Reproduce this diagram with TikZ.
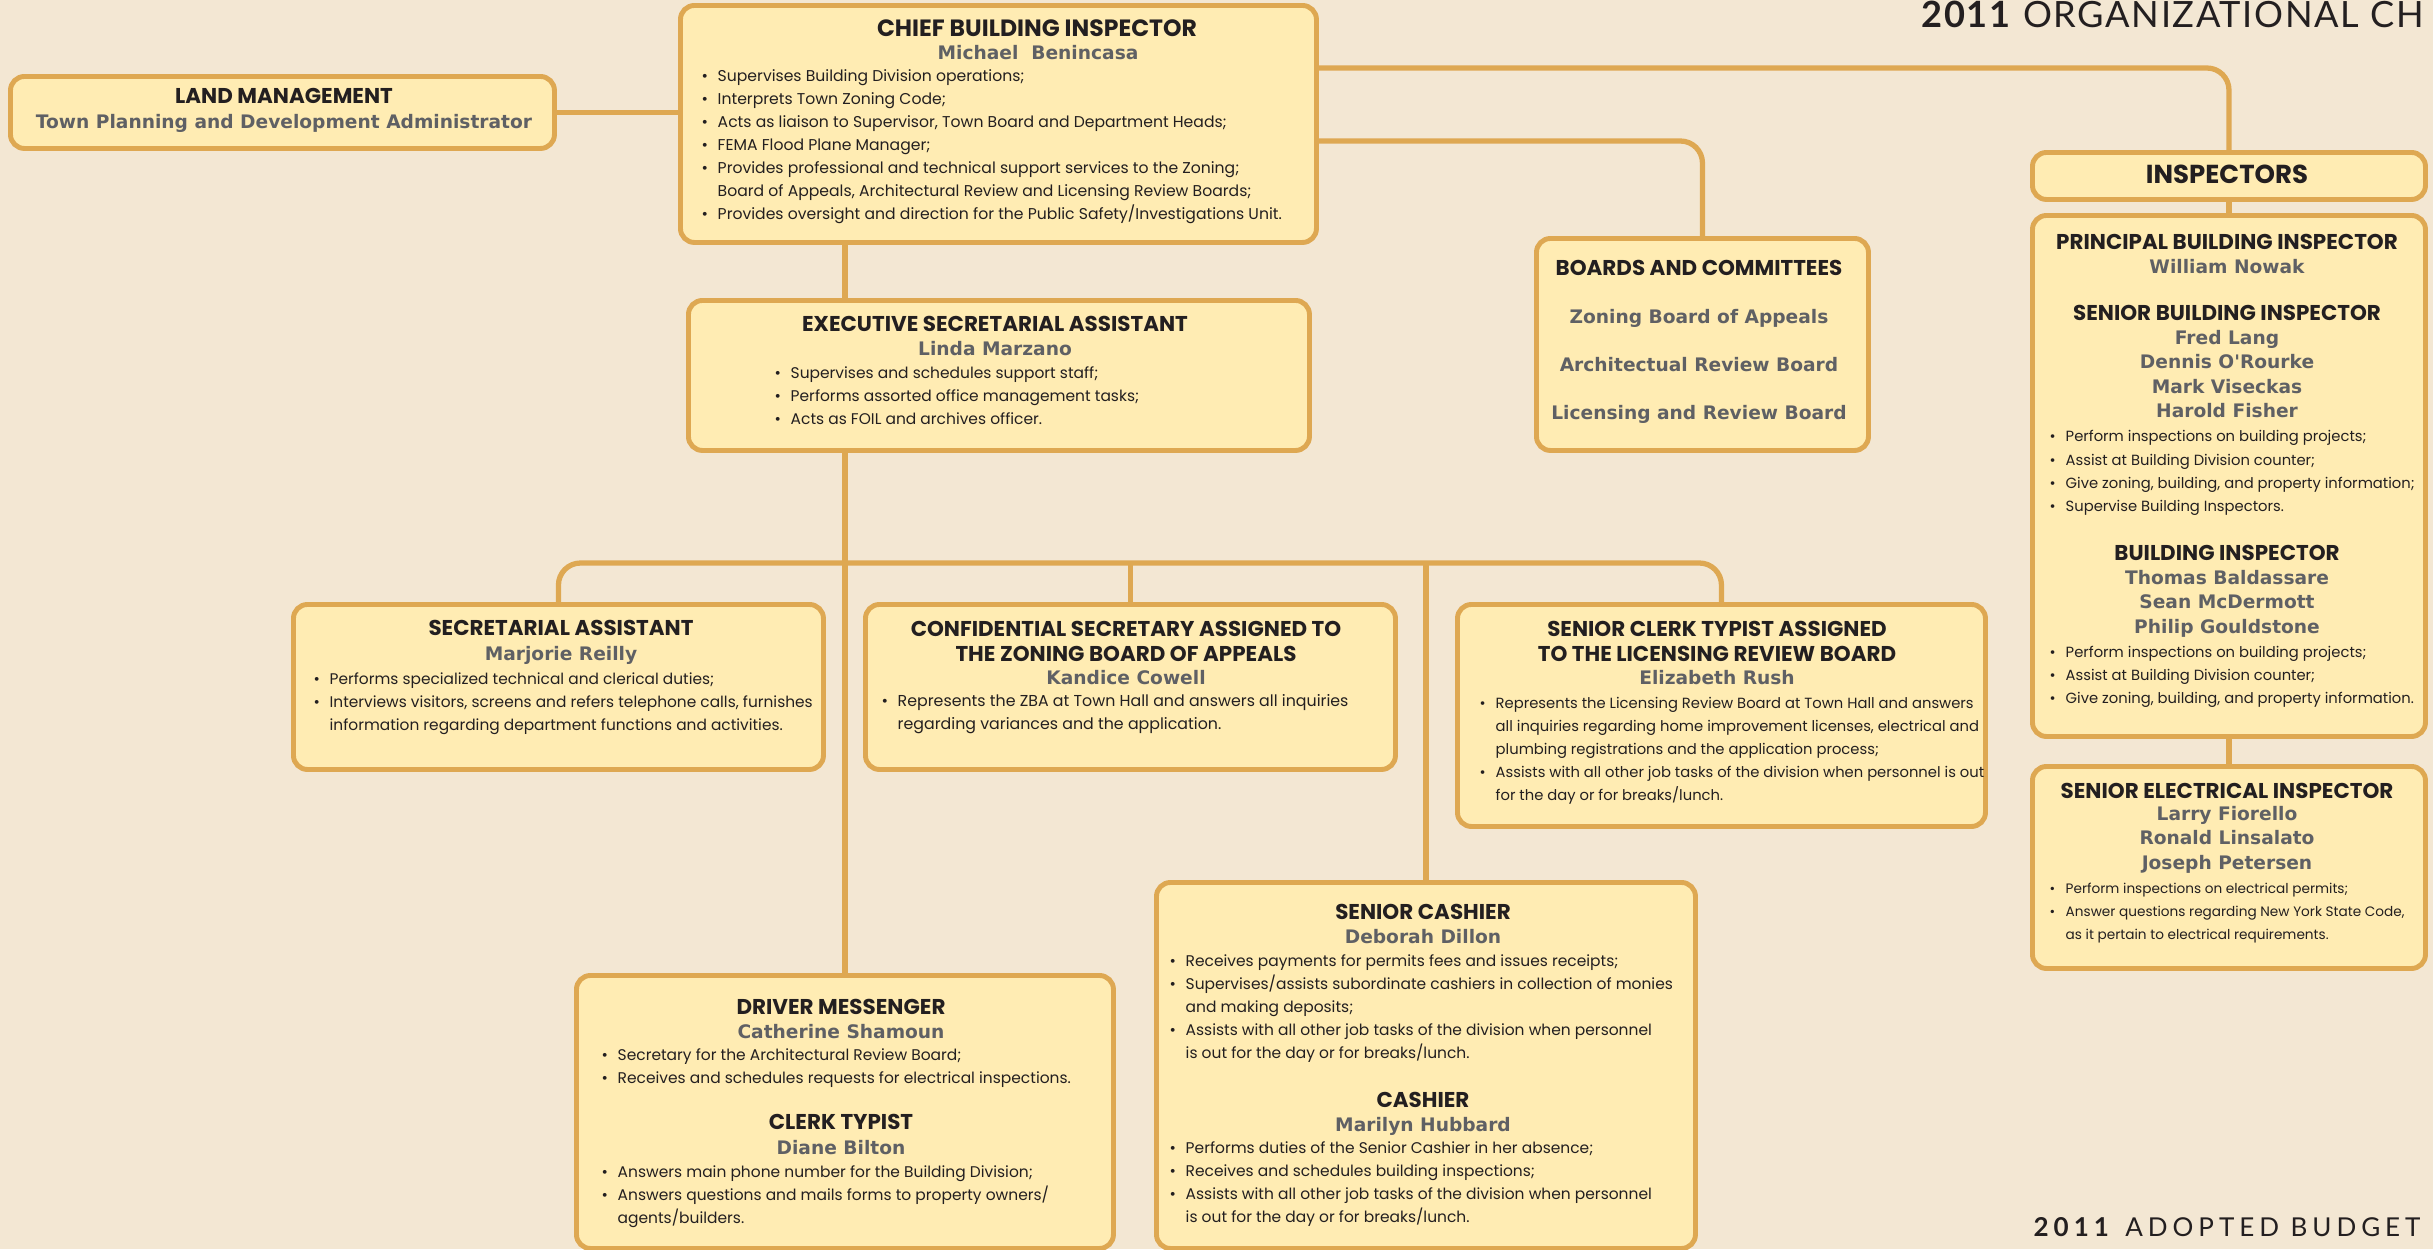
\documentclass[tikz,border=0pt]{standalone}
\usepackage{fontspec}
\setmainfont{Poppins}
\newfontfamily\namefont{DejaVu Sans}
\newfontfamily\capfont{Lato}[LetterSpace=4.5]
\newfontfamily\spacedfont{Lato}[LetterSpace=19]
\usetikzlibrary{positioning, calc, backgrounds}

\definecolor{paper}{RGB}{243,231,211}
\definecolor{pale}{RGB}{255,236,179}
\definecolor{gold}{RGB}{222,168,82}
\definecolor{ink}{RGB}{35,31,32}
\definecolor{slate}{RGB}{95,96,100}

\newcommand{\itm}{\makebox[1.6mm][l]{\textbullet}}
\newcommand{\more}{\hspace*{1.6mm}}

\begin{document}
\begin{tikzpicture}[
    font=\fontsize{4.2}{6.55}\selectfont,
    unit/.style = {draw=gold, fill=pale, line width=1.4pt, rounded corners=1.4mm, anchor=north west, inner sep=0pt},
    link/.style = {draw=gold, line width=1.5pt, rounded corners=2.2mm},
    head/.style = {font=\bfseries\fontsize{6.1}{7.1}\selectfont, text=ink, inner sep=0pt, align=center, execute at begin node=\strut},
    who/.style  = {font=\namefont\bfseries\fontsize{5.3}{6.85}\selectfont, text=slate, inner sep=0pt, align=center, execute at begin node=\strut},
    duty/.style = {font=\fontsize{#1}{6.55}\selectfont, text=ink, inner sep=0pt, align=left, anchor=north west, execute at begin node=\strut},
    duty/.default = 4.2
  ]
  \useasboundingbox (0,0) rectangle (24.33,-12.49);
  \begin{scope}[on background layer]
    \fill[paper] (0,0) rectangle (24.33,-12.49);
  \end{scope}

  % --- boxes ---
  \node[unit, minimum width=5.44cm, minimum height=0.72cm] (land)   at (0.08,-0.74)  {};
  \node[unit, minimum width=6.36cm, minimum height=2.37cm] (chief)  at (6.78,-0.03)  {};
  \node[unit, minimum width=6.21cm, minimum height=1.50cm] (exec)   at (6.86,-2.98)  {};
  \node[unit, minimum width=3.32cm, minimum height=2.12cm] (boards) at (15.34,-2.36) {};
  \node[unit, minimum width=3.93cm, minimum height=0.47cm] (insp)   at (20.30,-1.50) {};
  \node[unit, minimum width=3.93cm, minimum height=5.21cm] (inspB)  at (20.30,-2.13) {};
  \node[unit, minimum width=3.93cm, minimum height=2.02cm] (elec)   at (20.30,-7.64) {};
  \node[unit, minimum width=5.30cm, minimum height=1.65cm] (secr)   at (2.91,-6.02)  {};
  \node[unit, minimum width=5.30cm, minimum height=1.65cm] (conf)   at (8.63,-6.02)  {};
  \node[unit, minimum width=5.28cm, minimum height=2.22cm] (clerk)  at (14.55,-6.02) {};
  \node[unit, minimum width=5.39cm, minimum height=3.66cm] (cash)   at (11.54,-8.80) {};
  \node[unit, minimum width=5.37cm, minimum height=2.73cm] (drv)    at (5.74,-9.73)  {};
  \coordinate (bus) at (8.42,-5.63);

  % --- land management ---
  \node[head, anchor=base] (landH) at (2.84,-1.035) {LAND MANAGEMENT};
  \node[who, anchor=base]  (landN) at (2.84,-1.28)  {Town Planning and Development Administrator};

  % --- chief ---
  \node[head, anchor=base, font=\bfseries\fontsize{6.7}{7.5}\selectfont] (chiefH) at (10.37,-0.36) {CHIEF BUILDING INSPECTOR};
  \node[who, anchor=base] (chiefN) at (10.38,-0.59) {Michael~~Benincasa};
  \node[duty=4.45] (chiefL) at (7.01,-0.686)
    {\itm Supervises Building Division operations;\\
     \itm Interprets Town Zoning Code;\\
     \itm Acts as liaison to Supervisor, Town Board and Department Heads;\\
     \itm FEMA Flood Plane Manager;\\
     \itm Provides professional and technical support services to the Zoning;\\
     \more Board of Appeals, Architectural Review and Licensing Review Boards;\\
     \itm Provides oversight and direction for the Public Safety/Investigations Unit.};

  % --- executive secretarial assistant ---
  \node[head, anchor=base] (execH) at (9.95,-3.315) {EXECUTIVE SECRETARIAL ASSISTANT};
  \node[who, anchor=base]  (execN) at (9.95,-3.55)  {Linda Marzano};
  \node[duty=4.4] (execL) at (7.74,-3.656)
    {\itm Supervises and schedules support staff;\\
     \itm Performs assorted office management tasks;\\
     \itm Acts as FOIL and archives officer.};

  % --- boards ---
  \node[head, anchor=base] (boardsH) at (16.99,-2.755) {BOARDS AND COMMITTEES};
  \node[who, anchor=north, font=\namefont\bfseries\fontsize{5.3}{13.65}\selectfont] (boardsN) at (16.99,-3.09)
    {Zoning Board of Appeals\\Architectual Review Board\\Licensing and Review Board};

  % --- inspectors ---
  \node[head, anchor=base, font=\bfseries\fontsize{7.4}{9}\selectfont] (inspH) at (22.27,-1.835) {INSPECTORS};
  \node[head, anchor=base] (prinH) at (22.27,-2.495) {PRINCIPAL BUILDING INSPECTOR};
  \node[who, anchor=base]  (prinN) at (22.27,-2.73)  {William Nowak};
  \node[head, anchor=base] (senH)  at (22.27,-3.205) {SENIOR BUILDING INSPECTOR};
  \node[who, anchor=north] (senN)  at (22.27,-3.30) {Fred Lang\\Dennis O'Rourke\\Mark Viseckas\\Harold Fisher};
  \node[duty] (senL) at (20.49,-4.30)
    {\itm Perform inspections on building projects;\\
     \itm Assist at Building Division counter;\\
     \itm Give zoning, building, and property information;\\
     \itm Supervise Building Inspectors.};
  \node[head, anchor=base] (bldH) at (22.27,-5.605) {BUILDING INSPECTOR};
  \node[who, anchor=north] (bldN) at (22.27,-5.70) {Thomas Baldassare\\Sean McDermott\\Philip Gouldstone};
  \node[duty] (bldL) at (20.49,-6.456)
    {\itm Perform inspections on building projects;\\
     \itm Assist at Building Division counter;\\
     \itm Give zoning, building, and property information.};

  % --- electrical ---
  \node[head, anchor=base] (elecH) at (22.27,-7.98) {SENIOR ELECTRICAL INSPECTOR};
  \node[who, anchor=north] (elecN) at (22.27,-8.06) {Larry Fiorello\\Ronald Linsalato\\Joseph Petersen};
  \node[duty=3.88] (elecL) at (20.49,-8.826)
    {\itm Perform inspections on electrical permits;\\
     \itm Answer questions regarding New York State Code,\\
     \more as it pertain to electrical requirements.};

  % --- second row ---
  \node[head, anchor=base] (secrH) at (5.61,-6.355) {SECRETARIAL ASSISTANT};
  \node[who, anchor=base]  (secrN) at (5.61,-6.60)  {Marjorie Reilly};
  \node[duty=4.38] (secrL) at (3.13,-6.716)
    {\itm Performs specialized technical and clerical duties;\\
     \itm Interviews visitors, screens and refers telephone calls, furnishes\\
     \more information regarding department functions and activities.};

  \node[head, anchor=north] (confH) at (11.26,-6.21) {CONFIDENTIAL SECRETARY ASSIGNED TO\\THE ZONING BOARD OF APPEALS};
  \node[who, anchor=base]   (confN) at (11.26,-6.84) {Kandice Cowell};
  \node[duty=4.5] (confL) at (8.81,-6.936)
    {\itm Represents the ZBA at Town Hall and answers all inquiries\\
     \more regarding variances and the application.};

  \node[head, anchor=north] (clerkH) at (17.17,-6.21) {SENIOR CLERK TYPIST ASSIGNED\\TO THE LICENSING REVIEW BOARD};
  \node[who, anchor=base]   (clerkN) at (17.17,-6.84) {Elizabeth Rush};
  \node[duty] (clerkL) at (14.79,-6.966)
    {\itm Represents the Licensing Review Board at Town Hall and answers\\
     \more all inquiries regarding home improvement licenses, electrical and\\
     \more plumbing registrations and the application process;\\
     \itm Assists with all other job tasks of the division when personnel is out\\
     \more for the day or for breaks/lunch.};

  % --- cashiers ---
  \node[head, anchor=base] (cashH) at (14.23,-9.195) {SENIOR CASHIER};
  \node[who, anchor=base]  (cashN) at (14.23,-9.43)  {Deborah Dillon};
  \node[duty=4.4] (cashL) at (11.69,-9.536)
    {\itm Receives payments for permits fees and issues receipts;\\
     \itm Supervises/assists subordinate cashiers in collection of monies\\
     \more and making deposits;\\
     \itm Assists with all other job tasks of the division when personnel\\
     \more is out for the day or for breaks/lunch.};
  \node[head, anchor=base] (cash2H) at (14.23,-11.075) {CASHIER};
  \node[who, anchor=base]  (cash2N) at (14.23,-11.31)  {Marilyn Hubbard};
  \node[duty=4.4] (cash2L) at (11.69,-11.406)
    {\itm Performs duties of the Senior Cashier in her absence;\\
     \itm Receives and schedules building inspections;\\
     \itm Assists with all other job tasks of the division when personnel\\
     \more is out for the day or for breaks/lunch.};

  % --- driver / clerk typist ---
  \node[head, anchor=base] (drvH) at (8.41,-10.145) {DRIVER MESSENGER};
  \node[who, anchor=base]  (drvN) at (8.41,-10.38)  {Catherine Shamoun};
  \node[duty=4.4] (drvL) at (6.01,-10.476)
    {\itm Secretary for the Architectural Review Board;\\
     \itm Receives and schedules requests for electrical inspections.};
  \node[head, anchor=base] (typH) at (8.41,-11.295) {CLERK TYPIST};
  \node[who, anchor=base]  (typN) at (8.41,-11.54)  {Diane Bilton};
  \node[duty=4.4] (typL) at (6.01,-11.646)
    {\itm Answers main phone number for the Building Division;\\
     \itm Answers questions and mails forms to property owners/\\
     \more agents/builders.};

  % --- captions ---
  \node[anchor=base west, inner sep=0pt, text=ink, font=\capfont\fontsize{10.3}{12}\selectfont] (title) at (19.21,-0.277) {\textbf{2011} ORGANIZATIONAL CH};
  \node[anchor=base west, inner sep=0pt, text=ink, font=\spacedfont\fontsize{7.4}{9}\selectfont] (budget) at (20.33,-12.36) {\textbf{2011} ADOPTED BUDGET};

  % --- connectors ---
  \begin{scope}[on background layer]
    \draw[link] (land.east) -- (land.east -| chief.west);
    \draw[link] ($(chief.north east)+(0,-0.65)$) -| (insp.north);
    \draw[link] ($(chief.north east)+(0,-1.38)$) -| (boards.north);
    \draw[link] (chief.south -| drv.north) -- (drv.north);
    \draw[link] (secr.north) |- (bus) -| (clerk.north);
    \draw[link] (conf.north |- bus) -- (conf.north);
    \draw[link] (cash.north |- bus) -- (cash.north);
    \draw[link] (insp.south) -- (inspB.north);
    \draw[link] (inspB.south) -- (elec.north);
  \end{scope}

\end{tikzpicture}
\end{document}
